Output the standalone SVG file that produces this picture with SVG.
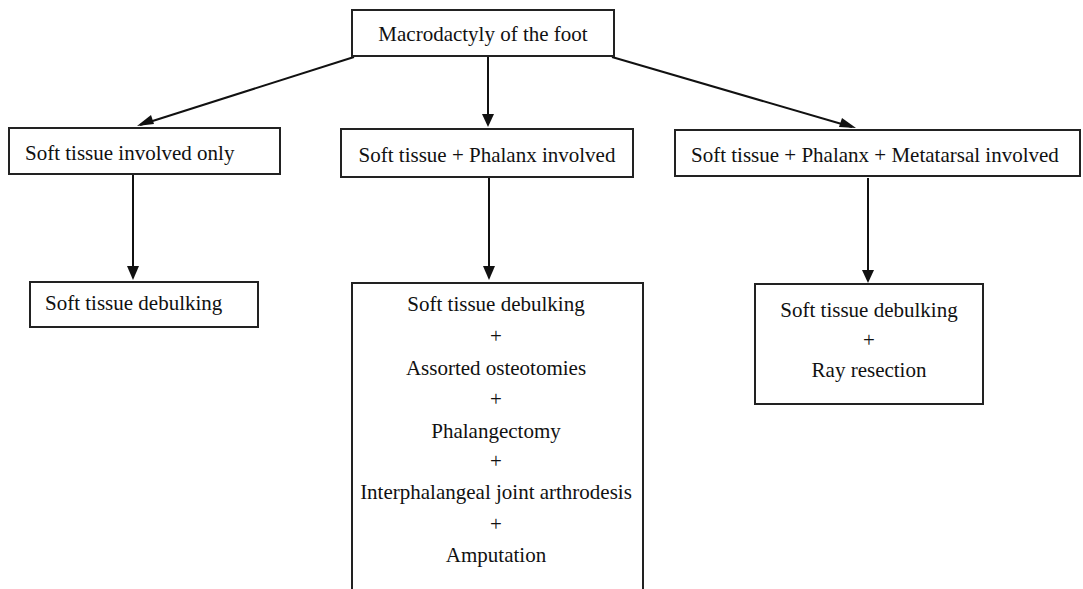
<svg xmlns="http://www.w3.org/2000/svg" width="1083" height="589" viewBox="0 0 1083 589">
<style>
.box{fill:#fff;stroke:#222;stroke-width:2}
.t{font-family:'Liberation Serif','Times New Roman',serif;font-size:21px;fill:#111}
.c{text-anchor:middle}
.ln{stroke:#111;stroke-width:2;fill:none}
.ah{fill:#111}
</style>
<rect width="1083" height="589" fill="#fff"/>
<g id="connectors">
<line class="ln" x1="354" y1="57" x2="140" y2="125"/>
<path class="ah" d="M137,126 l14,-11 l3,9 z"/>
<line class="ln" x1="488" y1="57" x2="488" y2="116"/>
<path class="ah" d="M482,114 L494,114 L488,127 z"/>
<line class="ln" x1="612" y1="57" x2="852" y2="127"/>
<path class="ah" d="M856,128 l-17,-1 l3,-9 z"/>
<line class="ln" x1="133" y1="175" x2="133" y2="268"/>
<path class="ah" d="M127,266 L139,266 L133,280 z"/>
<line class="ln" x1="489" y1="178" x2="489" y2="268"/>
<path class="ah" d="M483,266 L495,266 L489,280 z"/>
<line class="ln" x1="868" y1="178" x2="868" y2="272"/>
<path class="ah" d="M862,270 L874,270 L868,283 z"/>
</g>
<g id="n-root">
<rect class="box" x="352" y="10" width="262" height="46"/>
<text class="t c" x="483" y="41">Macrodactyly of the foot</text>
</g>
<g id="n-soft">
<rect class="box" x="9" y="128" width="271" height="46"/>
<text class="t" x="25" y="160">Soft tissue involved only</text>
</g>
<g id="n-phalanx">
<rect class="box" x="341" y="129" width="292" height="48"/>
<text class="t c" x="487" y="162">Soft tissue + Phalanx involved</text>
</g>
<g id="n-meta">
<rect class="box" x="675" y="130" width="405" height="46"/>
<text class="t" x="691" y="162">Soft tissue + Phalanx + Metatarsal involved</text>
</g>
<g id="n-debulk">
<rect class="box" x="30" y="282" width="228" height="45"/>
<text class="t" x="45" y="310">Soft tissue debulking</text>
</g>
<g id="n-multi">
<path d="M352,589 L352,283 L643,283 L643,589" class="box"/>
<text class="t c" x="496" y="311">Soft tissue debulking</text>
<text class="t c" x="496" y="343">+</text>
<text class="t c" x="496" y="375">Assorted osteotomies</text>
<text class="t c" x="496" y="406">+</text>
<text class="t c" x="496" y="438">Phalangectomy</text>
<text class="t c" x="496" y="468">+</text>
<text class="t c" x="496" y="499">Interphalangeal joint arthrodesis</text>
<text class="t c" x="496" y="531">+</text>
<text class="t c" x="496" y="562">Amputation</text>
</g>
<g id="n-ray">
<rect class="box" x="755" y="284" width="228" height="120"/>
<text class="t c" x="869" y="317">Soft tissue debulking</text>
<text class="t c" x="869" y="347">+</text>
<text class="t c" x="869" y="377">Ray resection</text>
</g>
</svg>
